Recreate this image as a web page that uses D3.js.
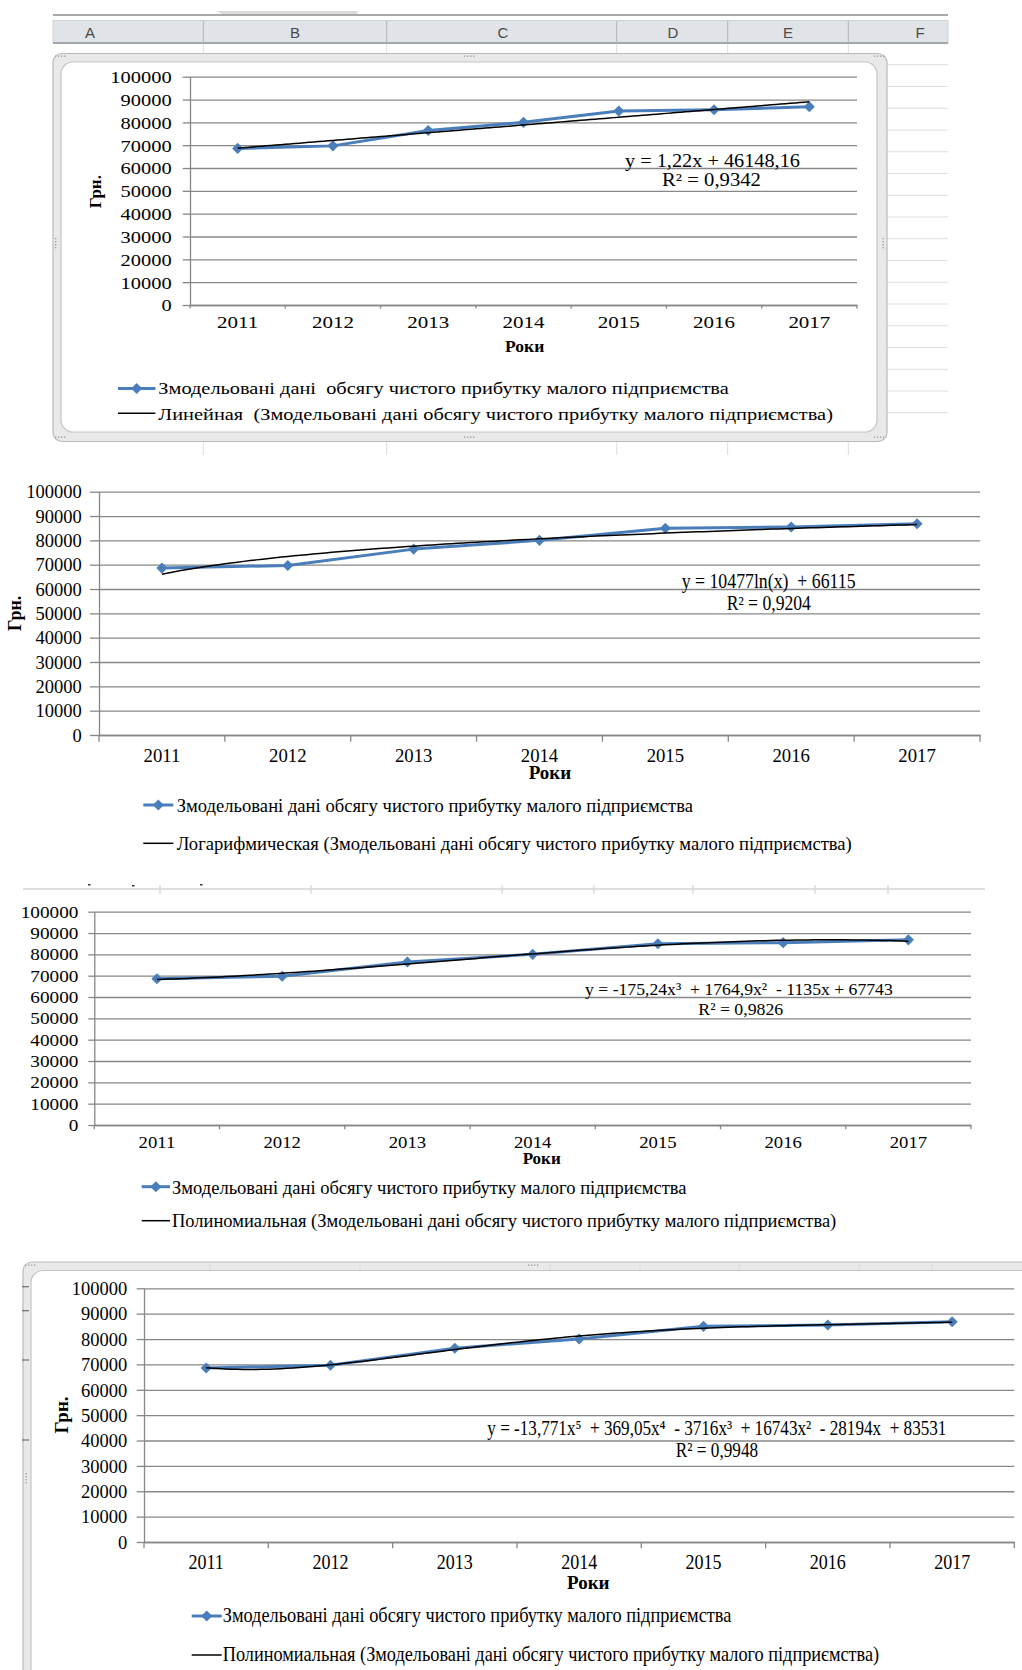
<!DOCTYPE html>
<html>
<head>
<meta charset="utf-8">
<script src="https://cdn.jsdelivr.net/npm/d3@7"></script>
<style>
  html, body { margin: 0; padding: 0; background: #fff; }
  svg { display: block; }
  text.serif { font-family: "Liberation Serif", "Times New Roman", serif; }
  text.sheet { font-family: "Liberation Sans", Arial, sans-serif; }
</style>
</head>
<body>
<svg id="page" width="1022" height="1670"></svg>
<script>
// ---- data -------------------------------------------------------------
const years = ["2011", "2012", "2013", "2014", "2015", "2016", "2017"];
const profit = [68600, 69700, 76400, 80000, 85000, 85500, 86800];
const yTicks = [0, 10000, 20000, 30000, 40000, 50000, 60000, 70000, 80000, 90000, 100000];
const sheetColumns = ["A", "B", "C", "D", "E", "F"];
const seriesName = "Змодельовані дані  обсягу чистого прибутку малого підприємства";
const seriesNameShort = "Змодельовані дані обсягу чистого прибутку малого підприємства";
const trendKinds = ["Линейная", "Логарифмическая", "Полиномиальная", "Полиномиальная"];
const yTitle = "Грн.";
const xTitle = "Роки";
const logCoef = [10477, 66115];                                  // a·ln(x) + b
const poly3Coef = [67743, -1135, 1764.9, -175.24];               // ascending powers
const poly5Coef = [83531, -28194, 16743, -3716, 369.05, -13.771]; // ascending powers
const equations = [
  "y = 1,22x + 46148,16",
  "y = 10477ln(x)  + 66115",
  "y = -175,24x³  + 1764,9x²  - 1135x + 67743",
  "y = -13,771x⁵  + 369,05x⁴  - 3716x³  + 16743x²  - 28194x  + 83531"
];
const r2Values = ["0,9342", "0,9204", "0,9826", "0,9948"];

// ---- trend functions --------------------------------------------------
function linearFit(vals) {
  const xs = vals.map((_, i) => i + 1);
  const mx = d3.mean(xs), my = d3.mean(vals);
  const b = d3.sum(xs, (x, i) => (x - mx) * (vals[i] - my)) / d3.sum(xs, x => (x - mx) ** 2);
  return x => my + b * (x - mx);
}
const polyEval = c => x => c.reduce((s, k, i) => s + k * x ** i, 0);
const trendFns = [
  linearFit(profit),
  x => logCoef[0] * Math.log(x) + logCoef[1],
  polyEval(poly3Coef),
  polyEval(poly5Coef)
];

// ---- styles -----------------------------------------------------------
const gridColor = "#878787";
const blue = "#4A7EBB";
const svg = d3.select("#page");

// Places a text so that it starts at (x, y) and spans exactly `w` pixels,
// squeezing or widening the glyphs horizontally.
function placeFitted(parent, str, x, y, w, size) {
  const t = parent.append("text").attr("class", "serif")
    .attr("xml:space", "preserve").attr("font-size", size).attr("fill", "#000")
    .attr("x", 0).attr("y", 0).text(str);
  const natural = t.node().getComputedTextLength();
  t.attr("transform", `translate(${x},${y}) scale(${w / natural},1)`);
  return t;
}

// ---- worksheet background around the first chart ----------------------
const sheet = svg.append("g");
sheet.append("path").attr("d", "M216.5,11 L357.5,11 L357.5,15 L224,15 Z").attr("fill", "#dadada");
sheet.append("line").attr("x1", 53).attr("x2", 948).attr("y1", 15).attr("y2", 15)
  .attr("stroke", "#a9a9a9").attr("stroke-width", 2);
sheet.append("rect").attr("x", 53).attr("y", 20.5).attr("width", 895).attr("height", 22.5)
  .attr("fill", "#e0e3e7").attr("stroke", "#c9cbcf").attr("stroke-width", 0.8);
sheet.append("line").attr("x1", 53).attr("x2", 948).attr("y1", 43).attr("y2", 43)
  .attr("stroke", "#a3a6aa").attr("stroke-width", 2);
const colEdges = [203.3, 386.7, 616.7, 727.7, 848.3];
const colCenters = [90, 295, 503, 673, 788, 920];
sheet.selectAll(".colsep").data(colEdges).join("line")
  .attr("x1", d => d).attr("x2", d => d).attr("y1", 21).attr("y2", 43)
  .attr("stroke", "#b2b4b8").attr("stroke-width", 1);
sheet.selectAll(".colsep2").data(colEdges).join("line")
  .attr("x1", d => d).attr("x2", d => d).attr("y1", 44).attr("y2", 54)
  .attr("stroke", "#dedede").attr("stroke-width", 1);
sheet.selectAll(".colsep3").data(colEdges).join("line")
  .attr("x1", d => d).attr("x2", d => d).attr("y1", 441).attr("y2", 455)
  .attr("stroke", "#dcdcdc").attr("stroke-width", 1);
sheet.selectAll(".collab").data(sheetColumns).join("text")
  .attr("class", "sheet")
  .attr("x", (d, i) => colCenters[i]).attr("y", 37.5).attr("text-anchor", "middle")
  .attr("font-size", 15).attr("fill", "#4a4a4a").text(d => d);
sheet.selectAll(".row").data(d3.range(1, 18)).join("line")
  .attr("x1", 886).attr("x2", 948)
  .attr("y1", d => 43 + d * 21.75).attr("y2", d => 43 + d * 21.75)
  .attr("stroke", "#dedede").attr("stroke-width", 1);

// chart frame (selected chart object)
function frame(x, y, w, h) {
  svg.append("rect").attr("x", x).attr("y", y).attr("width", w).attr("height", h).attr("rx", 9)
    .attr("fill", "#e9e9e9").attr("stroke", "#b9b9b9").attr("stroke-width", 1.2);
  svg.append("rect").attr("x", x + 8).attr("y", y + 8.5).attr("width", w - 18).attr("height", h - 18)
    .attr("rx", 12).attr("fill", "#fff").attr("stroke", "#c6c6c6").attr("stroke-width", 1.2);
}
function grip(x, y, vertical) {
  svg.append("g").selectAll("rect").data(d3.range(4)).join("rect")
    .attr("x", d => vertical ? x : x + d * 3).attr("y", d => vertical ? y + d * 3 : y)
    .attr("width", 1.3).attr("height", 1.3).attr("fill", "#9a9a9a");
}
frame(53, 53.5, 834, 388);
grip(464, 55.5, false); grip(464, 436.5, false);
grip(882.5, 238, true); grip(55, 238, true);
grip(55, 55.5, false); grip(874, 55.5, false);
grip(55, 436.5, false); grip(874, 436.5, false);

// worksheet fragments between the second and third chart
svg.append("line").attr("x1", 23).attr("x2", 985).attr("y1", 889).attr("y2", 889)
  .attr("stroke", "#d4d4d4").attr("stroke-width", 1.5);
svg.selectAll(".c3tick").data([160, 311, 502, 594, 693, 815, 888]).join("line")
  .attr("x1", d => d).attr("x2", d => d).attr("y1", 885).attr("y2", 894)
  .attr("stroke", "#d4d4d4").attr("stroke-width", 1.2);
svg.selectAll(".c3mark").data([[88, 884], [132, 885], [200, 884]]).join("rect")
  .attr("x", d => d[0]).attr("y", d => d[1]).attr("width", 2.5).attr("height", 1.5).attr("fill", "#333");

// frame of the fourth chart
frame(23, 1262, 1030, 440);
svg.selectAll(".c4cell").data([210, 360, 550, 640, 739, 859, 932]).join("line")
  .attr("x1", d => d).attr("x2", d => d).attr("y1", 1263).attr("y2", 1270)
  .attr("stroke", "#dadada").attr("stroke-width", 1);
grip(528, 1264.5, false); grip(25.5, 1473, true); grip(25, 1264.5, false);
svg.selectAll(".c4row").data([1286.7, 1310.7, 1360, 1440]).join("line")
  .attr("x1", 22).attr("x2", 29).attr("y1", d => d).attr("y2", d => d)
  .attr("stroke", "#6c6c6c").attr("stroke-width", 1.2);

// ---- one chart --------------------------------------------------------
function drawChart(k, cfg) {
  const g = svg.append("g");
  const [x0, yTop, x1, yBot] = cfg.plot;
  const x = d3.scaleBand().domain(years).range([x0, x1]);
  const y = d3.scaleLinear().domain([0, 100000]).range([yBot, yTop]);
  const cx = i => x(years[i]) + x.bandwidth() / 2;

  // horizontal gridlines
  g.append("g").attr("transform", `translate(${x0},0)`)
    .call(d3.axisLeft(y).tickValues(yTicks).tickSize(-(x1 - x0)).tickFormat(""))
    .call(s => s.select(".domain").remove())
    .selectAll("line").attr("stroke", gridColor).attr("stroke-width", 1.3);

  // value axis
  const ya = g.append("g").attr("transform", `translate(${x0},0)`)
    .call(d3.axisLeft(y).tickValues(yTicks).tickSize(cfg.yTick).tickSizeOuter(0).tickFormat(d => String(d)));
  ya.select(".domain").attr("stroke", gridColor).attr("stroke-width", 1.3);
  ya.selectAll(".tick line").attr("stroke", gridColor).attr("stroke-width", 1.3);
  ya.selectAll(".tick text").attr("class", "serif")
    .attr("fill", "#000").attr("font-size", cfg.ySize)
    .attr("transform", `scale(${cfg.yStretch},1)`)
    .attr("x", -(x0 - cfg.yRight) / cfg.yStretch).attr("dy", "0.34em");

  // category axis
  const xa = g.append("g").attr("transform", `translate(0,${yBot})`)
    .call(d3.axisBottom(x).tickSize(0).tickSizeOuter(0));
  xa.select(".domain").attr("stroke", gridColor).attr("stroke-width", 1.3);
  xa.selectAll(".tick text").attr("class", "serif")
    .attr("fill", "#000").attr("font-size", cfg.xSize)
    .attr("transform", `scale(${cfg.xStretch},1)`)
    .attr("y", cfg.xBase - yBot).attr("dy", null);
  g.selectAll(".bt").data(years.map(d => x(d)).concat([x1])).join("line")
    .attr("x1", d => d).attr("x2", d => d).attr("y1", yBot).attr("y2", yBot + cfg.xTick)
    .attr("stroke", gridColor).attr("stroke-width", 1.3);

  // series
  const line = d3.line().x((d, i) => cx(i)).y(d => y(d));
  g.append("path").datum(profit).attr("d", line).attr("fill", "none")
    .attr("stroke", blue).attr("stroke-width", 3).attr("stroke-linejoin", "round");
  g.selectAll(".mk").data(profit).join("path")
    .attr("transform", (d, i) => `translate(${cx(i)},${y(d)})`)
    .attr("d", d3.symbol(d3.symbolDiamond2, 78)).attr("fill", blue);

  // trendline
  const tx = d3.scaleLinear().domain([1, years.length]).range([cx(0), cx(years.length - 1)]);
  const fn = trendFns[k];
  const samples = d3.range(1, years.length + 0.001, 0.05);
  g.append("path").datum(samples)
    .attr("d", d3.line().x(s => tx(s)).y(s => y(fn(s))))
    .attr("fill", "none").attr("stroke", "#000").attr("stroke-width", 1.5);

  // trend equation and R²
  placeFitted(g, equations[k], cfg.eq.cx - cfg.eq.w / 2, cfg.eq.base, cfg.eq.w, cfg.eq.size);
  placeFitted(g, "R² = " + r2Values[k], cfg.r2.cx - cfg.r2.w / 2, cfg.r2.base, cfg.r2.w, cfg.eq.size);

  // axis titles
  if (cfg.yTitle) {
    g.append("text").attr("class", "serif").attr("text-anchor", "middle").attr("font-weight", "bold")
      .attr("font-size", cfg.yTitle.size).attr("fill", "#000")
      .attr("transform", `translate(${cfg.yTitle.cx + cfg.yTitle.size * 0.33},${cfg.yTitle.cy}) rotate(-90)`)
      .text(yTitle);
  }
  g.append("text").attr("class", "serif").attr("text-anchor", "middle").attr("font-weight", "bold")
    .attr("font-size", cfg.xTitle.size).attr("fill", "#000")
    .attr("x", cfg.xTitle.x).attr("y", cfg.xTitle.base).text(xTitle);

  // legend
  const L = cfg.legend;
  g.append("line").attr("x1", L.x0).attr("x2", L.x1).attr("y1", L.y1).attr("y2", L.y1)
    .attr("stroke", blue).attr("stroke-width", 3);
  g.append("path").attr("transform", `translate(${(L.x0 + L.x1) / 2},${L.y1})`)
    .attr("d", d3.symbol(d3.symbolDiamond2, 78)).attr("fill", blue);
  g.append("line").attr("x1", L.x0).attr("x2", L.x1).attr("y1", L.y2).attr("y2", L.y2)
    .attr("stroke", "#000").attr("stroke-width", 1.5);
  placeFitted(g, k === 0 ? seriesName : seriesNameShort, L.tx, L.b1, L.w1, L.size);
  placeFitted(g, trendKinds[k] + (k === 0 ? "  (" : " (") + seriesNameShort + ")", L.tx, L.b2, L.w2, L.size);
}

const layouts = [
  { plot: [190, 76.7, 857, 305], yTick: 7.3, xTick: 3.5, yRight: 171.7, ySize: 17.5, yStretch: 1.17,
    xSize: 17.5, xStretch: 1.2, xBase: 328,
    xTitle: { x: 524.7, base: 351.5, size: 17.5 }, yTitle: { cx: 95, cy: 191.7, size: 17 },
    eq: { cx: 712.5, base: 167.3, w: 175, size: 18.5 }, r2: { cx: 711.5, base: 186, w: 99 },
    legend: { x0: 118, x1: 155.4, tx: 158.3, y1: 388.5, b1: 394, w1: 571, y2: 413.3, b2: 419.5, w2: 675, size: 17 } },
  { plot: [99, 491.7, 980, 735], yTick: 9, xTick: 6.7, yRight: 81.7, ySize: 18.5, yStretch: 1.0,
    xSize: 18, xStretch: 1.04, xBase: 761.7,
    xTitle: { x: 550, base: 779.3, size: 19 }, yTitle: { cx: 15, cy: 613.3, size: 18 },
    eq: { cx: 768.7, base: 588.3, w: 174, size: 20 }, r2: { cx: 768.8, base: 610, w: 84.3 },
    legend: { x0: 143.3, x1: 173.3, tx: 176.7, y1: 805, b1: 812, w1: 516.6, y2: 843.3, b2: 849.5, w2: 675, size: 18 } },
  { plot: [94.3, 911.7, 971, 1125], yTick: 6, xTick: 4.3, yRight: 78.3, ySize: 16, yStretch: 1.2,
    xSize: 17.5, xStretch: 1.07, xBase: 1148.3,
    xTitle: { x: 541.7, base: 1164, size: 17 }, yTitle: null,
    eq: { cx: 739, base: 995, w: 308, size: 17.5 }, r2: { cx: 740.8, base: 1015, w: 85 },
    legend: { x0: 141.7, x1: 170, tx: 172, y1: 1186.7, b1: 1194, w1: 514.7, y2: 1220.7, b2: 1227, w2: 664.7, size: 18 } },
  { plot: [144, 1288.3, 1014.3, 1542], yTick: 7.3, xTick: 6.3, yRight: 127.3, ySize: 18.5, yStretch: 1.0,
    xSize: 20, xStretch: 0.9, xBase: 1569,
    xTitle: { x: 588.3, base: 1589, size: 19 }, yTitle: { cx: 62, cy: 1415, size: 19 },
    eq: { cx: 717, base: 1435, w: 459.4, size: 21 }, r2: { cx: 717, base: 1457.3, w: 82.3 },
    legend: { x0: 191.7, x1: 221.7, tx: 222.7, y1: 1616, b1: 1622, w1: 509, y2: 1655, b2: 1661, w2: 657, size: 20 } }
];
layouts.forEach((cfg, k) => drawChart(k, cfg));
</script>
</body>
</html>
